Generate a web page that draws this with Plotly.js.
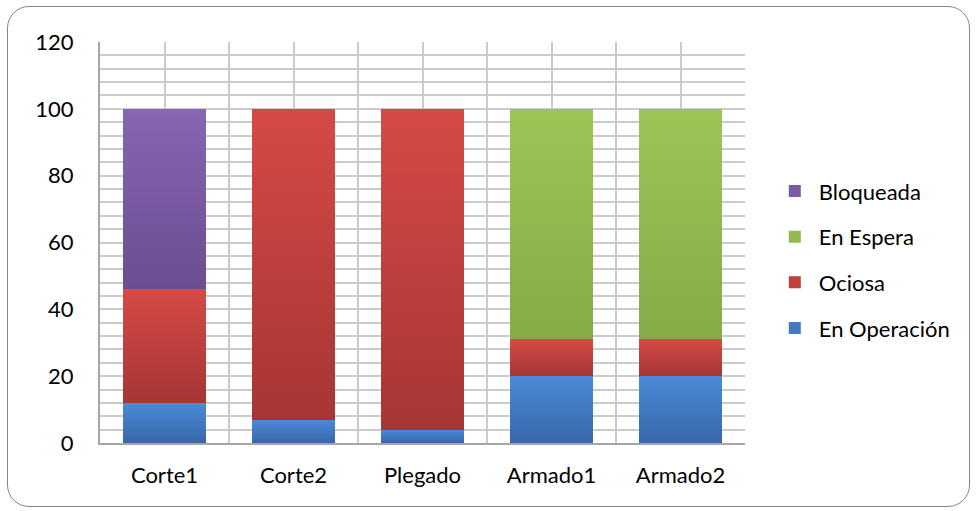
<!DOCTYPE html>
<html>
<head>
<meta charset="utf-8">
<script src="https://cdn.plot.ly/plotly-3.0.1.min.js"></script>
<style>
  html, body { margin: 0; padding: 0; background: #ffffff; }
  #wrap { position: relative; width: 979px; height: 511px; }
  #chart { position: absolute; left: 0; top: 0; width: 979px; height: 511px; }
  #frame {
    position: absolute; left: 7px; top: 6px; width: 961px; height: 499px;
    border: 1.5px solid #868686; border-radius: 22px; pointer-events: none;
  }
</style>
</head>
<body>
<div id="wrap">
  <div id="chart"></div>
  <div id="frame"></div>
</div>
<script>
// Machine states per workstation (percent of time)
const estaciones = ["Corte1", "Corte2", "Plegado", "Armado1", "Armado2"];
const enOperacion = [12, 7, 4, 20, 20];
const ociosa      = [34, 93, 96, 11, 11];
const enEspera    = [0, 0, 0, 69, 69];
const bloqueada   = [54, 0, 0, 0, 0];
const yTicks = [0, 20, 40, 60, 80, 100, 120];

const xPos = estaciones.map((_, i) => i);
const FONT = "Lato, 'Open Sans', sans-serif";

// base colour, plus the light (top) and dark (bottom) ends of each bar's shading
const estilos = [
  { name: "En Operación", y: enOperacion, color: "#4279c2", top: "#4b8bd9", bottom: "#3867a8", rank: 4 },
  { name: "Ociosa",       y: ociosa,      color: "#c33f3c", top: "#d54a46", bottom: "#a63634", rank: 3 },
  { name: "En Espera",    y: enEspera,    color: "#93b752", top: "#9ec457", bottom: "#86aa47", rank: 2 },
  { name: "Bloqueada",    y: bloqueada,   color: "#7a5ca3", top: "#8766b2", bottom: "#6a4d92", rank: 1 }
];

const data = estilos.map(s => ({
  type: "bar",
  name: s.name,
  legendgroup: s.name,
  legendrank: s.rank,
  x: xPos,
  y: s.y,
  width: 0.65,
  marker: { color: s.color, line: { width: 0 } },
  hoverinfo: "name+y"
}));

const gridColor = "#cbcbcb";

const layout = {
  width: 979,
  height: 511,
  margin: { l: 100, r: 234, t: 42, b: 68 },
  paper_bgcolor: "#ffffff",
  plot_bgcolor: "#ffffff",
  barmode: "stack",
  showlegend: true,
  font: { family: FONT, size: 22, color: "#000000" },
  xaxis: {
    type: "linear",
    range: [-0.5, estaciones.length - 0.5],
    tickmode: "array",
    tickvals: xPos,
    ticktext: estaciones,
    showgrid: true,
    gridcolor: gridColor,
    gridwidth: 2,
    minor: { tickmode: "linear", tick0: -0.5, dtick: 1, showgrid: true, gridcolor: gridColor, gridwidth: 2 },
    zeroline: false,
    showline: true,
    linecolor: "#a6a6a6",
    linewidth: 2,
    ticks: "",
    ticklabelstandoff: 12,
    tickfont: { family: FONT, size: 22, color: "#000000" },
    fixedrange: true
  },
  yaxis: {
    range: [0, 120],
    tickmode: "array",
    tickvals: yTicks,
    showgrid: true,
    gridcolor: gridColor,
    gridwidth: 2,
    minor: { tickmode: "linear", tick0: 0, dtick: 4, showgrid: true, gridcolor: gridColor, gridwidth: 2 },
    zeroline: false,
    showline: true,
    linecolor: "#a6a6a6",
    linewidth: 2,
    ticks: "",
    ticklabelstandoff: 20,
    tickfont: { family: FONT, size: 22, color: "#000000" },
    fixedrange: true
  },
  legend: {
    x: 1.04,
    xanchor: "left",
    y: 0.68,
    yanchor: "top",
    traceorder: "grouped",
    tracegroupgap: 14,
    itemwidth: 38,
    font: { family: FONT, size: 22, color: "#000000" },
    bgcolor: "rgba(0,0,0,0)"
  }
};

// vertical shading on every bar segment, light at the top and darker at the base
function sombrear(gd) {
  const svg = gd.querySelector("svg.main-svg");
  if (!svg) return;
  const ns = "http://www.w3.org/2000/svg";
  let defs = svg.querySelector("defs");
  if (!defs) { defs = document.createElementNS(ns, "defs"); svg.insertBefore(defs, svg.firstChild); }
  estilos.forEach((s, i) => {
    const g = document.createElementNS(ns, "linearGradient");
    g.setAttribute("id", "sombra" + i);
    g.setAttribute("x1", "0"); g.setAttribute("y1", "0");
    g.setAttribute("x2", "0"); g.setAttribute("y2", "1");
    [["0", s.top], ["1", s.bottom]].forEach(([o, c]) => {
      const st = document.createElementNS(ns, "stop");
      st.setAttribute("offset", o);
      st.setAttribute("stop-color", c);
      g.appendChild(st);
    });
    defs.appendChild(g);
  });
  gd.querySelectorAll(".barlayer .trace").forEach((tr, i) => {
    tr.querySelectorAll("path").forEach(p => { p.style.fill = "url(#sombra" + i + ")"; });
  });
}

Plotly.newPlot("chart", data, layout, { displayModeBar: false, staticPlot: true })
  .then(sombrear);
</script>
</body>
</html>
